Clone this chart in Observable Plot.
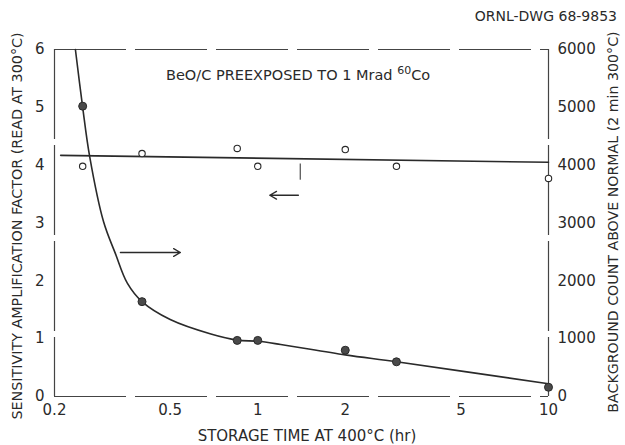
<!DOCTYPE html>
<html><head><meta charset="utf-8">
<script src="https://cdn.jsdelivr.net/npm/d3@7"></script>
<script src="https://cdn.jsdelivr.net/npm/@observablehq/plot@0.6"></script>
<style>body{margin:0;background:#fff;} #chart{position:relative;width:625px;height:445px;}</style>
</head><body><div id="chart"></div>
<script>
// Storage time (hr) at 400°C
const times = [0.25, 0.4, 0.85, 1, 2, 3, 10];
// Sensitivity amplification factor (open circles, left axis)
const sensitivity = [3.98, 4.2, 4.29, 3.98, 4.27, 3.98, 3.77];
// Background count above normal (filled circles, right axis)
const background = [5020, 1640, 970, 970, 800, 600, 160];
// Fitted line through sensitivity
const fitSensTimes = [0.21, 10];
const fitSens = [4.17, 4.05];
// Fitted curve through background counts
const curveTimes = [0.236, 0.25, 0.264, 0.295, 0.324, 0.356, 0.4, 0.5, 0.69, 0.85, 1, 1.2, 2, 3, 10];
const curveCounts = [6000, 5000, 4160, 3020, 2470, 1960, 1640, 1330, 1080, 975, 955, 900, 720, 600, 220];
// Ticks
const xTicks = [0.2, 0.5, 1, 2, 5, 10];
const xTickLabels = ["0.2", "0.5", "1", "2", "5", "10"];
const yTicks = [0, 1, 2, 3, 4, 5, 6];
const countTicks = [0, 1000, 2000, 3000, 4000, 5000, 6000];
const COUNT_PER_UNIT = 1000;
// Texts
const xLabel = "STORAGE TIME AT 400°C (hr)";
const yLabelLeft = "SENSITIVITY AMPLIFICATION FACTOR (READ AT 300°C)";
const yLabelRight = "BACKGROUND COUNT ABOVE NORMAL (2 min 300°C)";
const drawingNo = "ORNL-DWG 68-9853";

const points = times.map((t, i) => ({t, s: sensitivity[i], b: background[i] / COUNT_PER_UNIT}));
const fitLine = fitSensTimes.map((t, i) => ({t, v: fitSens[i]}));
const curve = curveTimes.map((t, i) => ({t, v: curveCounts[i] / COUNT_PER_UNIT}));

const ink = "#2a2a2a";
const font = "DejaVu Sans";

const chart = Plot.plot({
  width: 625,
  height: 445,
  marginLeft: 54,
  marginRight: 77,
  marginTop: 49,
  marginBottom: 49,
  style: {fontFamily: font, fontSize: "15px", color: ink, background: "#fff"},
  x: {type: "log", domain: [0.2, 10]},
  y: {domain: [0, 6]},
  marks: [
    // frame
    Plot.ruleY([0, 6], {stroke: "#444", strokeWidth: 1.2, strokeDasharray: "72,9"}),
    Plot.ruleX([0.2, 10], {stroke: "#444", strokeWidth: 1.2, strokeDasharray: "90,6"}),
    Plot.axisX({ticks: xTicks, tickFormat: (d) => xTickLabels[xTicks.indexOf(d)], tickSize: 0, tickPadding: 8, label: null, fontSize: 15}),
    Plot.axisY({ticks: yTicks, anchor: "left", tickSize: 0, tickPadding: 10, tickFormat: (d) => String(d), label: null, fontSize: 15}),
    Plot.axisY({ticks: yTicks, anchor: "right", tickSize: 0, tickPadding: 9, tickFormat: (d) => String(countTicks[yTicks.indexOf(d)]), label: null, fontSize: 15}),
    // fitted lines
    Plot.line(fitLine, {x: "t", y: "v", stroke: ink, strokeWidth: 1.6}),
    Plot.line(curve, {x: "t", y: "v", stroke: ink, strokeWidth: 1.6, curve: "catmull-rom"}),
    // points
    Plot.dot(points, {x: "t", y: "s", r: 3.2, stroke: ink, strokeWidth: 1.1, fill: "white"}),
    Plot.dot(points, {x: "t", y: "b", r: 4, fill: "#4a4a4a", stroke: ink, strokeWidth: 1}),
    // arrows
    Plot.arrow([{x1: 1.38, x2: 1.1, y: 3.48}], {x1: "x1", x2: "x2", y1: "y", y2: "y", stroke: ink, strokeWidth: 1.3, headLength: 9}),
    Plot.arrow([{x1: 0.337, x2: 0.542, y: 2.49}], {x1: "x1", x2: "x2", y1: "y", y2: "y", stroke: ink, strokeWidth: 1.3, headLength: 9}),
    Plot.ruleX([1.4], {y1: 3.74, y2: 4.02, stroke: ink, strokeWidth: 1})
  ]
});
document.getElementById("chart").appendChild(chart);

// annotations
const svg = d3.select(chart);
const addText = (x, y, txt, size, anchor, rotate) => {
  const t = svg.append("text")
    .attr("x", x).attr("y", y).attr("text-anchor", anchor)
    .attr("dominant-baseline", "middle")
    .attr("font-family", font).attr("font-size", size).attr("fill", ink)
    .text(txt);
  if (rotate) t.attr("transform", `rotate(${rotate},${x},${y})`);
  return t;
};
addText(617, 17, drawingNo, 14, "end");
addText(307, 436, xLabel, 15, "middle");
addText(18, 226, yLabelLeft, 14.3, "middle", -90);
addText(614, 222, yLabelRight, 14.2, "middle", -90);
const title = svg.append("text")
  .attr("x", 166).attr("y", 80).attr("text-anchor", "start")
  .attr("font-family", font).attr("font-size", 14.5).attr("fill", ink);
title.append("tspan").text("BeO/C PREEXPOSED TO 1 Mrad ");
title.append("tspan").attr("font-size", 11).attr("dy", -6).text("60");
title.append("tspan").attr("dy", 6).text("Co");
</script>
</body></html>
